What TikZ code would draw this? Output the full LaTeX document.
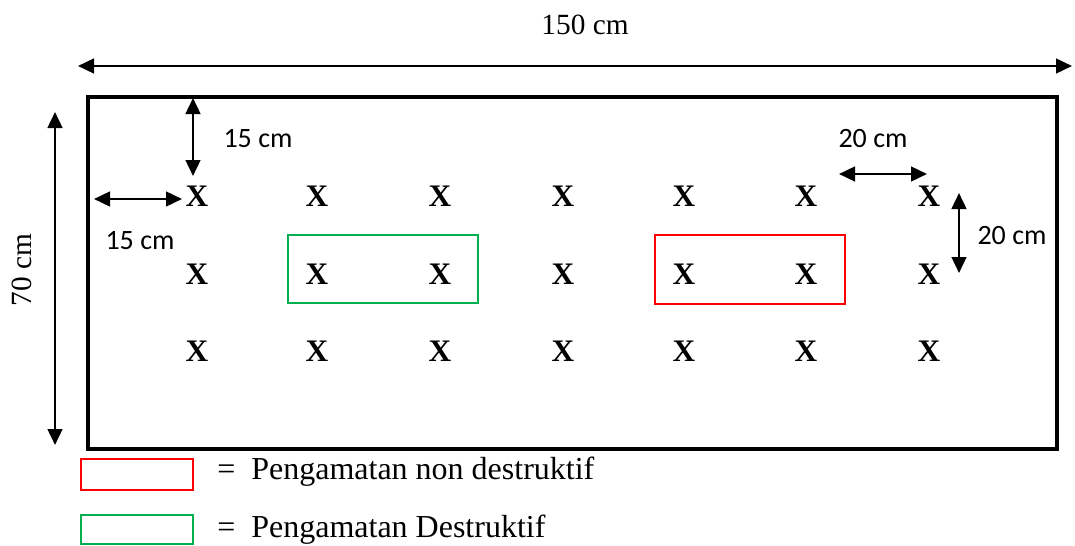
\documentclass[tikz,border=0pt]{standalone}
\usepackage{fontspec}
\setmainfont{Liberation Serif}
\newfontfamily\calib{Carlito}
\usetikzlibrary{arrows.meta}
\definecolor{wgreen}{RGB}{0,176,80}
\definecolor{wred}{RGB}{255,0,0}
\begin{document}
\begin{tikzpicture}[x=0.75pt,y=-0.75pt,
  dimline/.style={line width=1.9pt,{Triangle[length=12pt,width=11pt]}-{Triangle[length=12pt,width=11pt]}},
  xmark/.style={font=\fontsize{23.5}{23.5}\selectfont\bfseries,inner sep=0pt},
  sanslbl/.style={font=\calib\fontsize{21}{21}\selectfont,inner sep=0pt},
  seriflbl/.style={font=\fontsize{22}{22}\selectfont,inner sep=0pt},
  legtext/.style={font=\fontsize{24}{24}\selectfont,inner sep=0pt,anchor=west},
  plot/.style={line width=2.4pt},
  greenbox/.style={draw=wgreen,line width=1.3pt},
  redbox/.style={draw=wred,line width=1.3pt}]
\useasboundingbox (0,0) rectangle (1075,546);
% field
\draw[plot] (88,97) rectangle (1057,449);
% X grid
\foreach \c [count=\i] in {197,317,440,563,684,806,929}
  \foreach \r [count=\j] in {196,274,351}
    \node[xmark] (x\i\j) at (\c,\r) {X};
% observation boxes
\draw[greenbox] (288,235) rectangle (478,303);
\draw[redbox] (655,235) rectangle (845,304);
% overall dimensions
\coordinate (tl) at (78,66);
\coordinate (tr) at (1072,66);
\draw[dimline] (tl) -- (tr);
\node[seriflbl] (l150) at (585,25) {150 cm};
\coordinate (vl1) at (55,112);
\coordinate (vl2) at (55,445);
\draw[dimline] (vl1) -- (vl2);
\node[seriflbl,rotate=90] (l70) at (22,270) {70 cm};
% 15 cm margins
\coordinate (m1a) at (193,98);
\coordinate (m1b) at (193,176);
\draw[dimline] (m1a) -- (m1b);
\node[sanslbl] (l15a) at (258,139) {15 cm};
\coordinate (m2a) at (94,199);
\coordinate (m2b) at (182,199);
\draw[dimline] (m2a) -- (m2b);
\node[sanslbl] (l15b) at (140,241) {15 cm};
% 20 cm spacing
\coordinate (s1a) at (839,174);
\coordinate (s1b) at (927,174);
\draw[dimline] (s1a) -- (s1b);
\node[sanslbl] (l20a) at (873,139) {20 cm};
\coordinate (s2a) at (959,193);
\coordinate (s2b) at (959,273);
\draw[dimline] (s2a) -- (s2b);
\node[sanslbl] (l20b) at (1012,236) {20 cm};
% legend
\draw[redbox] (81,459) rectangle (193,490);
\node[legtext] (leg1) at (217,472) {=\ \ Pengamatan non destruktif};
\draw[greenbox] (81,515) rectangle (193,544);
\node[legtext] (leg2) at (217,530) {=\ \ Pengamatan Destruktif};
\end{tikzpicture}
\end{document}
